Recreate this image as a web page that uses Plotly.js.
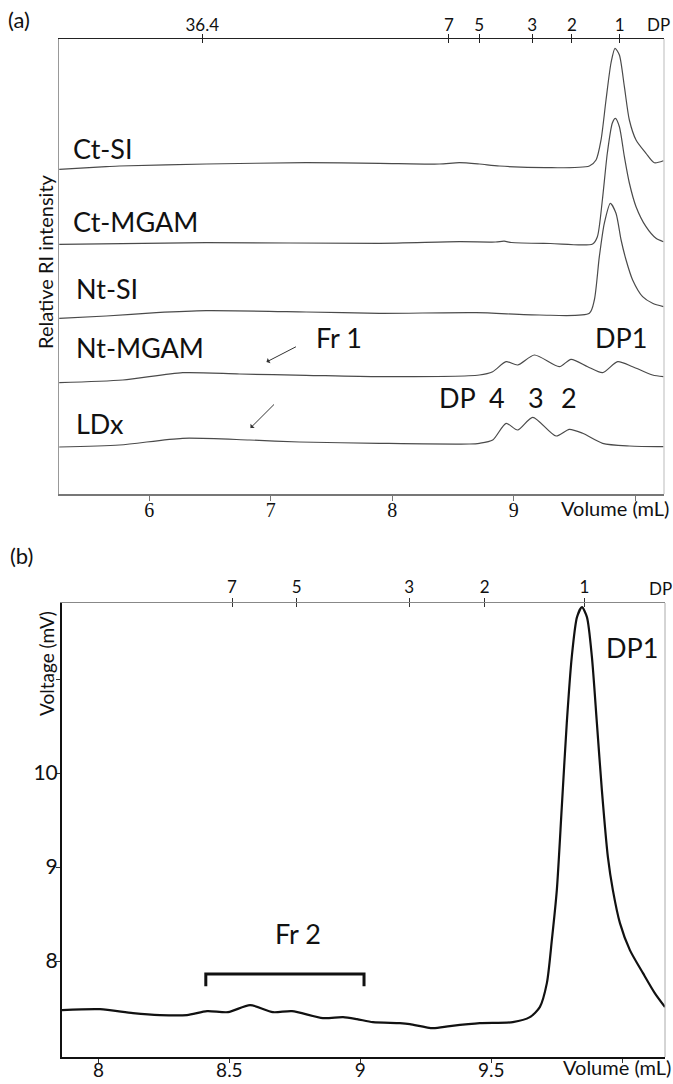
<!DOCTYPE html>
<html>
<head>
<meta charset="utf-8">
<script src="https://cdn.plot.ly/plotly-3.0.1.min.js"></script>
<style>html,body{margin:0;padding:0;background:#fff}#chart{width:673px;height:1084px}</style>
</head>
<body>
<div id="chart"></div>
<script>
// ---------- Panel (a): stacked RI chromatograms (volume in mL, stacked relative intensity) ----------
const ctSI_x = [5.26, 5.646, 5.756, 6.469, 7.291, 7.894, 8.387, 8.552, 8.716, 8.881, 9.265, 9.621, 9.676, 9.717, 9.758, 9.799, 9.832, 9.868, 9.909, 9.950, 10.005, 10.087, 10.155, 10.23];
const ctSI_y = [324.7, 327.3, 328, 330, 331.3, 330.7, 330, 331.3, 330, 328, 326.3, 328, 334, 354, 394, 431, 445.7, 439, 407.3, 374, 354, 340.7, 331.3, 333.3];

const ctMGAM_x = [5.26, 6.469, 7.894, 8.552, 8.85, 8.92, 8.98, 9.3, 9.648, 9.687, 9.728, 9.769, 9.810, 9.835, 9.868, 9.909, 9.950, 10.005, 10.087, 10.169, 10.23];
const ctMGAM_y = [249.7, 251.3, 250.7, 252.3, 252, 252.8, 251.5, 250.5, 250, 257.3, 294, 341, 371, 375.7, 367.3, 337.3, 311, 287.3, 267.3, 255.7, 252.3];

const ntSI_x = [5.26, 5.646, 6.058, 6.469, 7.291, 7.894, 8.689, 9.210, 9.621, 9.662, 9.703, 9.744, 9.794, 9.840, 9.882, 9.923, 9.977, 10.059, 10.141, 10.23];
const ntSI_y = [175.7, 178, 181.3, 183.3, 182, 180.7, 181.3, 179, 180.7, 194, 237.3, 270.7, 290.7, 280.7, 254, 234, 214, 197.3, 190.7, 187.3];

const ntMGAM_x = [5.26, 5.783, 6.276, 6.743, 7.291, 7.894, 8.716, 8.826, 8.936, 9.031, 9.169, 9.374, 9.470, 9.607, 9.730, 9.854, 9.977, 10.141, 10.23];
const ntMGAM_y = [111.3, 114, 121.3, 120, 118.7, 117.3, 119, 122.3, 132.3, 129, 139, 127.3, 134.7, 127.3, 121.3, 132.3, 127.3, 119, 117.3];

const ldx_x = [5.26, 5.756, 6.274, 6.825, 7.236, 7.894, 8.634, 8.716, 8.826, 8.936, 9.031, 9.155, 9.347, 9.456, 9.566, 9.730, 9.950, 10.23];
const ldx_y = [47, 49, 55.7, 54, 52, 50.7, 50, 50.7, 54, 70.7, 64, 76.7, 58, 64.7, 60.7, 50.7, 48, 47.3];

const seriesNamesA = ['Ct-SI', 'Ct-MGAM', 'Nt-SI', 'Nt-MGAM', 'LDx'];

const volTicksA = [6, 7, 8, 9, 10];
const volTickTextA = ['6', '7', '8', '9', ''];
const dpVolA = [6.437, 8.465, 8.714, 9.150, 9.477, 9.871];
const dpTextA = ['36.4', '7', '5', '3', '2', '1'];

// ---------- Panel (b): voltage trace ----------
const volB = [7.861, 8.006, 8.132, 8.235, 8.338, 8.415, 8.495, 8.579, 8.666, 8.739, 8.857, 8.934, 8.987, 9.048, 9.151, 9.189, 9.277, 9.342, 9.456, 9.582, 9.647, 9.685, 9.712, 9.731, 9.750, 9.769, 9.788, 9.807, 9.827, 9.846, 9.865, 9.884, 9.903, 9.922, 9.945, 9.964, 9.991, 10.029, 10.079, 10.124, 10.163];
const mvB  = [7.479, 7.489, 7.447, 7.426, 7.426, 7.468, 7.457, 7.532, 7.457, 7.468, 7.394, 7.404, 7.383, 7.351, 7.340, 7.330, 7.287, 7.309, 7.340, 7.351, 7.404, 7.511, 7.766, 8.223, 8.755, 9.638, 10.532, 11.234, 11.660, 11.766, 11.660, 11.234, 10.532, 9.819, 9.106, 8.755, 8.404, 8.117, 7.872, 7.660, 7.511];

const volTicksB = [8, 8.5, 9, 9.5, 10];
const volTickTextB = ['8', '8.5', '9', '9.5', ''];
const mvTicksB = [8, 9, 10, 11];
const mvTickTextB = ['8', '9', '10', ''];
const dpVolB = [8.51, 8.757, 9.186, 9.475, 9.855];
const dpTextB = ['7', '5', '3', '2', '1'];
const fr2Range = [8.41, 9.014];
const fr2Level = 7.862;

const SANS = 'Lato, "Open Sans", sans-serif';
const SERIF = '"Liberation Serif", "DejaVu Serif", serif';

const lineA = {color: '#4a4a4a', width: 1.2, shape: 'spline', smoothing: 0.7};
const xsA = [ctSI_x, ctMGAM_x, ntSI_x, ntMGAM_x, ldx_x];
const ysA = [ctSI_y, ctMGAM_y, ntSI_y, ntMGAM_y, ldx_y];

const traces = seriesNamesA.map((n, i) => ({
  type: 'scatter', mode: 'lines', name: n, x: xsA[i], y: ysA[i],
  xaxis: 'x', yaxis: 'y', line: lineA, hoverinfo: 'skip'
}));
traces.push({type: 'scatter', mode: 'lines', name: 'voltage', x: volB, y: mvB, xaxis: 'x2', yaxis: 'y2',
  line: {color: '#111', width: 2.2, shape: 'spline', smoothing: 0.7}, hoverinfo: 'skip'});
// empty traces so the overlay DP axes are created
['x3', 'x4'].forEach(a => traces.push({type: 'scatter', x: [], y: [], xaxis: a, yaxis: 'y', showlegend: false}));
['x5', 'x6'].forEach(a => traces.push({type: 'scatter', x: [], y: [], xaxis: a, yaxis: 'y2', showlegend: false}));

const rangeA = [5.254, 10.235];
const rangeB = [7.861, 10.163];
const domXA = [58.5 / 673, 664 / 673];
const domYA = [1 - 494 / 1084, 1 - 39 / 1084];
const domXB = [62 / 673, 665 / 673];
const domYB = [1 - 1057 / 1084, 1 - 603 / 1084];

const layout = {
  width: 673, height: 1084, autosize: false,
  margin: {l: 0, r: 0, t: 0, b: 0, pad: 0},
  paper_bgcolor: '#fff', plot_bgcolor: 'rgba(0,0,0,0)',
  showlegend: false,
  font: {family: SANS, color: '#111'},
  xaxis: {domain: domXA, range: rangeA, anchor: 'y', showgrid: false, zeroline: false,
    showline: true, linecolor: '#777', linewidth: 1.5, ticks: 'outside', ticklen: 5, tickcolor: '#777',
    ticklabelstandoff: -8,
    tickvals: volTicksA, ticktext: volTickTextA, tickfont: {family: SERIF, size: 20, color: '#111'}},
  yaxis: {domain: domYA, range: [0, 455], anchor: 'x', showgrid: false, zeroline: false,
    showline: true, linecolor: '#999', linewidth: 1, showticklabels: false, ticks: ''},
  xaxis3: {overlaying: 'x', anchor: 'y', side: 'top', range: rangeA, showgrid: false, zeroline: false,
    showline: true, linecolor: '#222', linewidth: 1.5, ticks: 'outside', ticklen: 4, tickcolor: '#222',
    ticklabelstandoff: -4,
    tickvals: dpVolA, ticktext: dpTextA, tickfont: {family: SANS, size: 17, color: '#111'}},
  xaxis4: {overlaying: 'x', anchor: 'y', side: 'top', range: rangeA, showgrid: false, zeroline: false,
    showline: false, ticks: 'inside', ticklen: 4, tickcolor: '#222', tickvals: dpVolA, showticklabels: false},
  xaxis2: {domain: domXB, range: rangeB, anchor: 'y2', showgrid: false, zeroline: false,
    showline: true, linecolor: '#111', linewidth: 2, ticks: 'outside', ticklen: 4, tickcolor: '#333',
    ticklabelstandoff: -9,
    tickvals: volTicksB, ticktext: volTickTextB, tickfont: {family: SANS, size: 19, color: '#111'}},
  yaxis2: {domain: domYB, range: [6.98, 11.81], anchor: 'x2', showgrid: false, zeroline: false,
    showline: true, linecolor: '#111', linewidth: 2, ticks: 'outside', ticklen: 4, tickcolor: '#333',
    ticklabelstandoff: -6,
    tickvals: mvTicksB, ticktext: mvTickTextB, tickfont: {family: SANS, size: 21, color: '#111'}},
  xaxis5: {overlaying: 'x2', anchor: 'y2', side: 'top', range: rangeB, showgrid: false, zeroline: false,
    showline: true, linecolor: '#888', linewidth: 1.5, ticks: 'outside', ticklen: 4, tickcolor: '#333',
    ticklabelstandoff: -2,
    tickvals: dpVolB, ticktext: dpTextB, tickfont: {family: SANS, size: 17, color: '#111'}},
  xaxis6: {overlaying: 'x2', anchor: 'y2', side: 'top', range: rangeB, showgrid: false, zeroline: false,
    showline: false, ticks: 'inside', ticklen: 4, tickcolor: '#333', tickvals: dpVolB, showticklabels: false},
  shapes: [
    {type: 'line', xref: 'x domain', yref: 'y domain', x0: 1, x1: 1, y0: 0, y1: 1, line: {color: '#bbb', width: 1}},
    {type: 'line', xref: 'x2 domain', yref: 'y2 domain', x0: 1, x1: 1, y0: 0, y1: 1, line: {color: '#aaa', width: 1}},
    {type: 'path', xref: 'x2', yref: 'y2',
      path: `M ${fr2Range[0]},${fr2Level - 0.13} L ${fr2Range[0]},${fr2Level} L ${fr2Range[1]},${fr2Level} L ${fr2Range[1]},${fr2Level - 0.13}`,
      line: {color: '#111', width: 3}}
  ],
  annotations: []
};

const A = layout.annotations;
const lbl = (text, x, y, size, opts) => A.push(Object.assign({text, x, y, xref: 'x', yref: 'y', showarrow: false,
  xanchor: 'center', yanchor: 'middle', font: {family: SANS, size, color: '#111'}}, opts || {}));
lbl('Ct-SI', 5.36, 346, 27, {xanchor: 'left'});
lbl('Ct-MGAM', 5.36, 273, 27, {xanchor: 'left'});
lbl('Nt-SI', 5.385, 206, 27, {xanchor: 'left'});
lbl('Nt-MGAM', 5.385, 147, 27, {xanchor: 'left'});
lbl('LDx', 5.385, 71, 27, {xanchor: 'left'});
lbl('Fr 1', 7.564, 157, 27);
lbl('DP1', 9.885, 157, 27);
lbl('DP', 8.536, 97, 27);
lbl('4', 8.865, 97, 27);
lbl('3', 9.185, 97, 27);
lbl('2', 9.457, 97, 27);
// Fr 1 arrows
A.push({text: '', x: 6.9646, y: 132, ax: 7.2196, ay: 148, xref: 'x', yref: 'y', axref: 'x', ayref: 'y',
  showarrow: true, arrowhead: 1, arrowsize: 1, arrowwidth: 1, arrowcolor: '#333'});
A.push({text: '', x: 6.833, y: 66, ax: 7.039, ay: 91, xref: 'x', yref: 'y', axref: 'x', ayref: 'y',
  showarrow: true, arrowhead: 1, arrowsize: 1, arrowwidth: 1, arrowcolor: '#333'});
// panel (b) labels
A.push({text: 'DP1', x: 10.037, y: 11.34, xref: 'x2', yref: 'y2', showarrow: false, xanchor: 'center', yanchor: 'middle',
  font: {family: SANS, size: 27, color: '#111'}});
A.push({text: 'Fr 2', x: 8.762, y: 8.298, xref: 'x2', yref: 'y2', showarrow: false, xanchor: 'center', yanchor: 'middle',
  font: {family: SANS, size: 27, color: '#111'}});
// paper labels
const pl = (text, px, py, size, opts) => A.push(Object.assign({text, x: px / 673, y: 1 - py / 1084, xref: 'paper', yref: 'paper',
  xanchor: 'center', yanchor: 'middle', showarrow: false, font: {family: SANS, size, color: '#111'}}, opts || {}));
pl('(a)', 19, 20, 22);
pl('(b)', 21, 555, 22);
pl('DP', 658, 25, 17);
pl('DP', 660, 588, 17);
pl('Volume (mL)', 615, 508, 20);
pl('Volume (mL)', 617, 1067, 20);
pl('Relative RI intensity', 45, 262, 20, {textangle: -90});
pl('Voltage (mV)', 46, 663, 19, {textangle: -90});

Plotly.newPlot('chart', traces, layout, {staticPlot: true, displayModeBar: false});
</script>
</body>
</html>
